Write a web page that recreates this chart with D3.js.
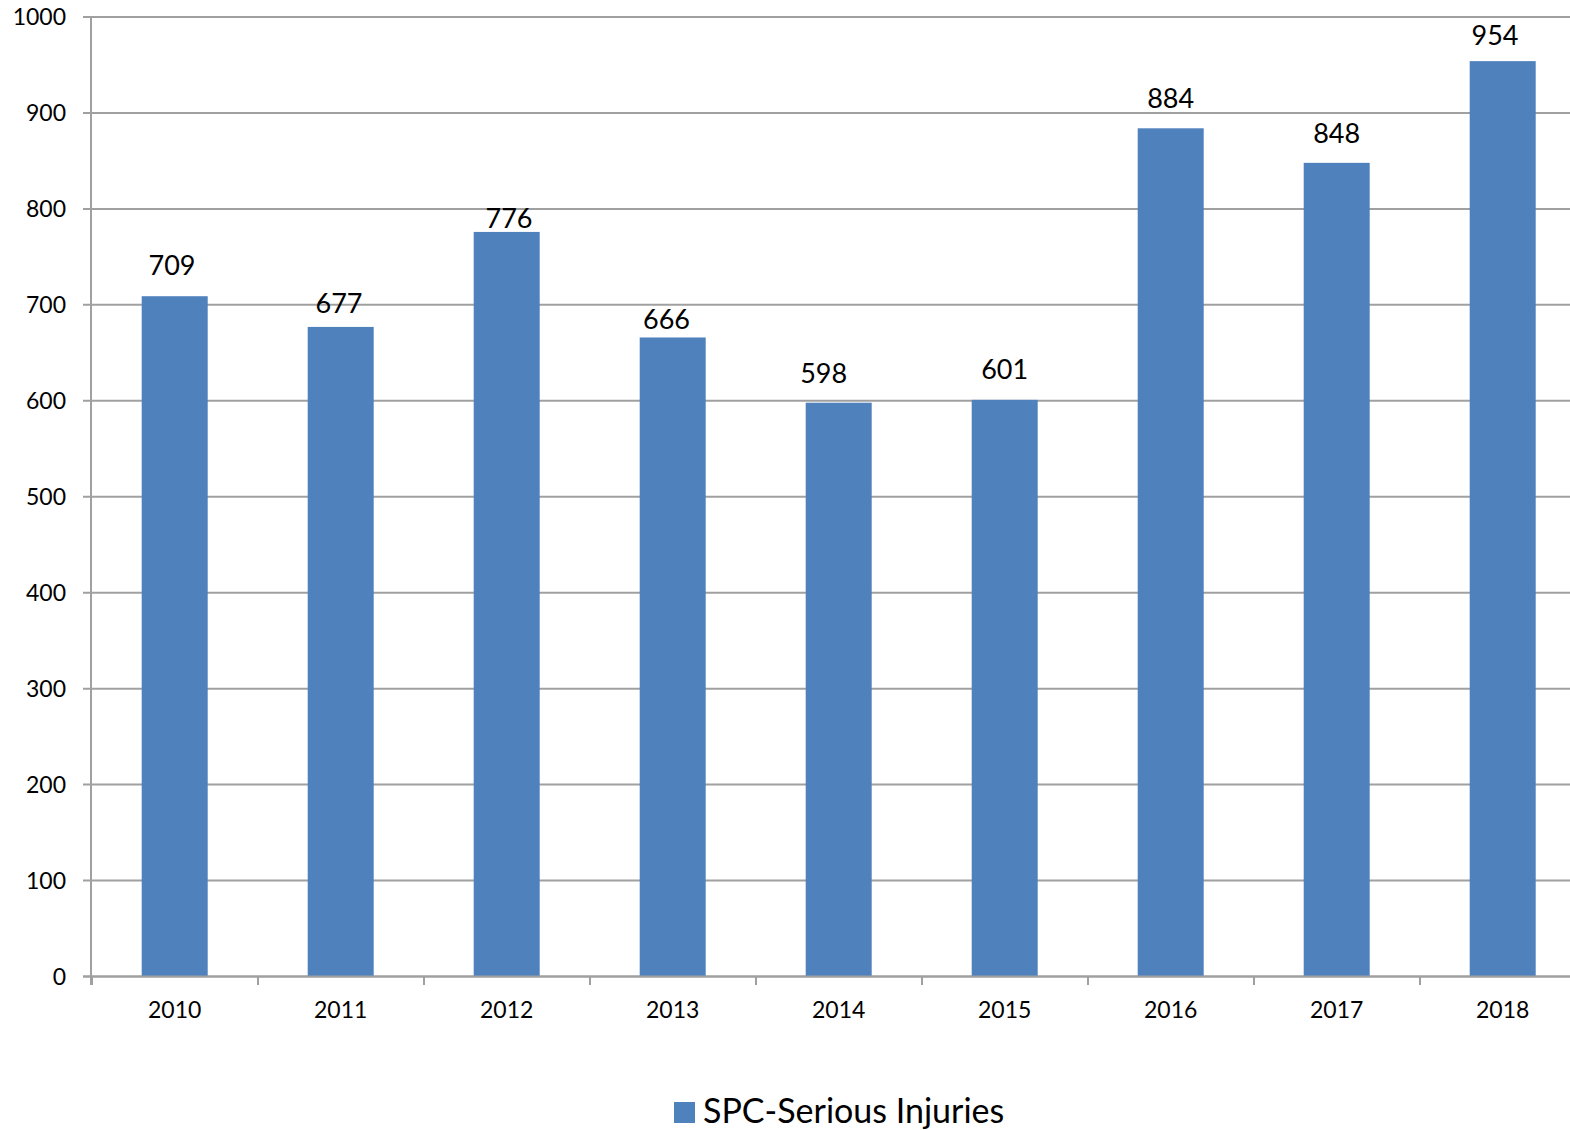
<!DOCTYPE html>
<html><head><meta charset="utf-8">
<script src="https://cdn.jsdelivr.net/npm/d3@7"></script>
<style>body{margin:0;background:#fff}svg{display:block}</style>
</head><body>
<script>
const categories = ["2010","2011","2012","2013","2014","2015","2016","2017","2018"];
const values = [709,677,776,666,598,601,884,848,954];
const yTicks = [0,100,200,300,400,500,600,700,800,900,1000];
const seriesName = "SPC-Serious Injuries";
// manual nudges of the data labels, as placed in the original
const labelDx = [-2.7,-1.7,2.3,-6.2,-15,0,0,0,-7.7];
const labelGap = [21.7,14,3.5,8,20,20.7,20.7,20,16];

const W = 1570, H = 1130;
const svg = d3.select("body").append("svg").attr("width", W).attr("height", H);
const font = "Lato, 'Open Sans', sans-serif";
const gridColor = "#a0a0a0";

const y = d3.scaleLinear().domain([0,1000]).range([976.5,17]);
const x0 = 91.7, step = 166;
const x = d3.scaleBand().domain(categories).range([x0, x0+9*step])
  .paddingInner(100/166).paddingOuter(50/166);

// gridlines
svg.append("g").selectAll("line").data(yTicks).join("line")
  .attr("x1", 83).attr("x2", W).attr("y1", d=>y(d)).attr("y2", d=>y(d))
  .attr("stroke", gridColor).attr("stroke-width", 2);

// y labels
svg.append("g").selectAll("text").data(yTicks).join("text")
  .attr("x", 66).attr("y", d=>y(d)).attr("dy", "0.36em")
  .attr("text-anchor","end").attr("font-family", font).attr("font-size", 23)
  .attr("fill","#000").text(d=>d);

// bars
svg.append("g").selectAll("rect").data(values).join("rect")
  .attr("x", (d,i)=>x(categories[i])).attr("width", x.bandwidth())
  .attr("y", d=>y(d)).attr("height", d=>y(0)-y(d)).attr("fill","#4f81bd");

// data labels
svg.append("g").selectAll("text").data(values).join("text")
  .attr("x", (d,i)=>x(categories[i]) + x.bandwidth()/2 + labelDx[i])
  .attr("y", (d,i)=>y(d)-labelGap[i])
  .attr("text-anchor","middle").attr("font-family", font).attr("font-size", 27)
  .attr("fill","#000").text(d=>d);

// axes lines
svg.append("line").attr("x1",91).attr("x2",91).attr("y1",y(1000)).attr("y2",985)
  .attr("stroke",gridColor).attr("stroke-width",2);
svg.append("line").attr("x1",83).attr("x2",W).attr("y1",y(0)).attr("y2",y(0))
  .attr("stroke",gridColor).attr("stroke-width",2);
// x ticks at band boundaries
const bounds = categories.map(c => x(c) - x.step()*x.paddingOuter());
svg.append("g").selectAll("line").data(bounds).join("line")
  .attr("x1", d=>Math.round(d)).attr("x2", d=>Math.round(d)).attr("y1", y(0)).attr("y2", 985)
  .attr("stroke", gridColor).attr("stroke-width", 2);

// x labels
svg.append("g").selectAll("text").data(categories).join("text")
  .attr("x", d=>x(d)+x.bandwidth()/2).attr("y", 1018)
  .attr("text-anchor","middle").attr("font-family", font).attr("font-size", 23)
  .attr("fill","#000").text(d=>d);

// legend
svg.append("rect").attr("x",674).attr("y",1102).attr("width",21).attr("height",21).attr("fill","#4f81bd");
svg.append("text").attr("x",703).attr("y",1123).attr("font-family",font).attr("font-size",34)
  .attr("fill","#000").text(seriesName);
</script>
</body></html>
